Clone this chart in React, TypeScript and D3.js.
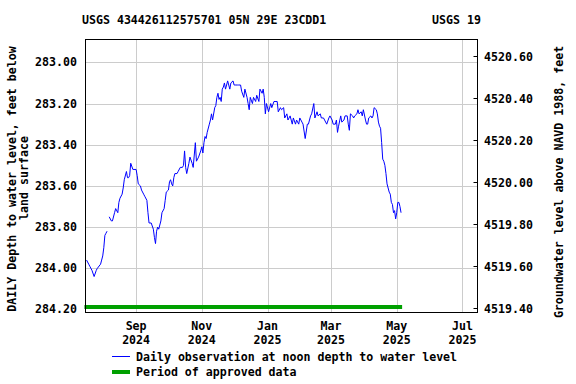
import React from "react";
import * as d3 from "d3";

// chart text
const title = "USGS 434426112575701 05N 29E 23CDD1";
const agency = "USGS 19";
const leftLabel = ["DAILY Depth to water level, feet below", "land surface"];
const rightLabel = "Groundwater level above NAVD 1988, feet";
const legendLine = "Daily observation at noon depth to water level";
const legendApproved = "Period of approved data";

// axes
const xDomain = ["2024-07-16", "2025-07-15"];
const xTicks = ["2024-09-01", "2024-11-01", "2025-01-01", "2025-03-01", "2025-05-01", "2025-07-01"];
const depthDomain = [282.889, 284.2146];
const depthTicks = [283.0, 283.2, 283.4, 283.6, 283.8, 284.0, 284.2];
const elevDomain = [4520.677, 4519.377];
const elevTicks = [4520.6, 4520.4, 4520.2, 4520.0, 4519.8, 4519.6, 4519.4];

// approved period
const approved = ["2024-07-15", "2025-05-06"];

// daily observations (null = gap)
const obsDates = [
  "2024-07-17", "2024-07-19", "2024-07-20", "2024-07-22", "2024-07-24", "2024-07-26", "2024-07-27", "2024-07-30", "2024-07-31",
  "2024-08-01", "2024-08-02", "2024-08-03", "2024-08-04", "2024-08-05", "2024-08-06", "2024-08-07", "2024-08-09", "2024-08-10",
  "2024-08-12", "2024-08-13", "2024-08-15", "2024-08-16", "2024-08-17", "2024-08-19", "2024-08-20", "2024-08-21", "2024-08-23",
  "2024-08-24", "2024-08-25", "2024-08-26", "2024-08-27", "2024-08-29", "2024-08-30",
  "2024-09-01", "2024-09-02", "2024-09-03", "2024-09-05", "2024-09-06", "2024-09-08", "2024-09-09", "2024-09-11", "2024-09-12",
  "2024-09-13", "2024-09-15", "2024-09-17", "2024-09-18", "2024-09-19", "2024-09-20", "2024-09-21", "2024-09-22", "2024-09-24",
  "2024-09-25", "2024-09-27", "2024-09-28", "2024-09-29",
  "2024-10-01", "2024-10-02", "2024-10-03", "2024-10-04", "2024-10-05", "2024-10-06", "2024-10-07", "2024-10-09", "2024-10-10",
  "2024-10-12", "2024-10-14", "2024-10-15", "2024-10-16", "2024-10-17", "2024-10-18", "2024-10-20", "2024-10-21", "2024-10-23",
  "2024-10-24", "2024-10-26", "2024-10-27", "2024-10-29", "2024-10-31",
  "2024-11-01", "2024-11-02", "2024-11-03", "2024-11-04", "2024-11-05", "2024-11-06", "2024-11-08", "2024-11-09", "2024-11-10",
  "2024-11-11", "2024-11-13", "2024-11-14", "2024-11-15", "2024-11-16", "2024-11-17", "2024-11-18", "2024-11-19", "2024-11-20",
  "2024-11-21", "2024-11-22", "2024-11-23", "2024-11-25", "2024-11-26", "2024-11-27", "2024-11-28", "2024-11-30",
  "2024-12-01", "2024-12-02", "2024-12-04", "2024-12-05", "2024-12-07", "2024-12-08", "2024-12-10", "2024-12-11", "2024-12-13",
  "2024-12-14", "2024-12-15", "2024-12-16", "2024-12-18", "2024-12-19", "2024-12-21", "2024-12-22", "2024-12-24", "2024-12-25",
  "2024-12-27", "2024-12-28", "2024-12-29", "2024-12-30", "2024-12-31",
  "2025-01-02", "2025-01-04", "2025-01-05", "2025-01-07", "2025-01-08", "2025-01-10", "2025-01-11", "2025-01-13", "2025-01-14",
  "2025-01-16", "2025-01-17", "2025-01-19", "2025-01-20", "2025-01-22", "2025-01-24", "2025-01-25", "2025-01-27", "2025-01-28",
  "2025-01-30", "2025-01-31",
  "2025-02-02", "2025-02-03", "2025-02-05", "2025-02-07", "2025-02-08", "2025-02-10", "2025-02-11", "2025-02-13", "2025-02-14",
  "2025-02-16", "2025-02-17", "2025-02-19", "2025-02-20", "2025-02-22", "2025-02-24", "2025-02-25", "2025-02-27", "2025-02-28",
  "2025-03-02", "2025-03-03", "2025-03-05", "2025-03-06", "2025-03-07", "2025-03-08", "2025-03-10", "2025-03-11", "2025-03-13",
  "2025-03-14", "2025-03-16", "2025-03-17", "2025-03-18", "2025-03-19", "2025-03-21", "2025-03-22", "2025-03-23", "2025-03-25",
  "2025-03-26", "2025-03-27", "2025-03-29", "2025-03-30", "2025-03-31",
  "2025-04-02", "2025-04-03", "2025-04-04", "2025-04-05", "2025-04-07", "2025-04-08", "2025-04-09", "2025-04-10", "2025-04-12",
  "2025-04-13", "2025-04-14", "2025-04-15", "2025-04-16", "2025-04-17", "2025-04-18", "2025-04-19", "2025-04-20", "2025-04-21",
  "2025-04-22", "2025-04-24", "2025-04-25", "2025-04-26", "2025-04-27", "2025-04-28", "2025-04-29", "2025-04-30",
  "2025-05-01", "2025-05-02", "2025-05-03", "2025-05-04", "2025-05-05",
];

const obsDepth: (number | null)[] = [
  283.96, 283.98, 283.99, 284.01, 284.04, 284.01, 284.0, 283.98, 283.96,
  283.94, 283.9, 283.84, 283.83, 283.82, null, 283.75, 283.77, 283.77,
  283.73, 283.71, 283.73, 283.68, 283.66, 283.64, 283.61, 283.57, 283.53,
  283.56, 283.56, 283.55, 283.49, 283.52, 283.52,
  283.52, 283.55, 283.59, 283.6, 283.62, 283.64, 283.65, 283.67, 283.73,
  283.78, 283.78, 283.81, 283.85, 283.88, 283.82, 283.8, 283.81, 283.77,
  283.73, 283.71, 283.67, 283.63,
  283.62, 283.58, 283.57, 283.59, 283.6, 283.56, 283.54, 283.54, 283.53,
  283.51, 283.51, 283.5, 283.43, 283.51, 283.54, 283.49, 283.46, 283.49,
  283.51, 283.39, 283.48, 283.46, 283.43,
  283.41, 283.44, 283.39, 283.36, 283.37, 283.34, 283.3, 283.28, 283.25,
  283.28, 283.22, 283.21, 283.17, 283.15, 283.18, 283.17, 283.19, 283.13,
  283.12, 283.1, 283.13, 283.09, 283.11, 283.13, 283.1, 283.09,
  283.11, 283.11, 283.11, 283.11, 283.11, 283.14, 283.17, 283.13, 283.17,
  283.2, 283.23, 283.17, 283.2, 283.17, 283.19, 283.16, 283.19, 283.13,
  283.15, 283.13, 283.17, 283.25, 283.2,
  283.24, 283.2, 283.22, 283.19, 283.19, 283.19, 283.24, 283.22, 283.23,
  283.22, 283.27, 283.25, 283.28, 283.26, 283.3, 283.27, 283.3, 283.28,
  283.3, 283.27,
  283.29, 283.3, 283.37, 283.3, 283.3, 283.26, 283.25, 283.2, 283.27,
  283.24, 283.26, 283.25, 283.27, 283.27, 283.29, 283.3, 283.27, 283.26,
  283.28, 283.3, 283.3, 283.28, 283.34, 283.31, 283.26, 283.29, 283.28,
  283.26, 283.26, 283.3, 283.33, 283.25, 283.26, 283.27, 283.26, 283.25,
  283.23, 283.25, 283.24, 283.26, 283.23,
  283.28, 283.3, 283.3, 283.27, 283.26, 283.27, 283.26, 283.22, 283.23,
  283.25, 283.29, 283.31, 283.32, 283.39, 283.47, 283.48, 283.5, 283.54,
  283.59, 283.63, 283.64, 283.68, 283.69, 283.73, 283.72, 283.76,
  283.73, 283.68, 283.68, 283.7, 283.73,
];

const width = 576;
const height = 384;
const left = 85.5;
const right = 477.5;
const top = 39.5;
const bottom = 312.5;

const font = "'DejaVu Sans Mono', monospace";
const fs = 11.6;

const parse = d3.timeParse("%Y-%m-%d");
const fmtMonth = d3.timeFormat("%b");
const fmtYear = d3.timeFormat("%Y");

const x = d3.scaleTime().domain(xDomain.map((d) => parse(d)!)).range([left, right]);
const yDepth = d3.scaleLinear().domain(depthDomain).range([top, bottom]);
const yElev = d3.scaleLinear().domain(elevDomain).range([top, bottom]);

const data = obsDates.map((d, i) => ({ date: parse(d)!, v: obsDepth[i] }));

const line = d3
  .line<{ date: Date; v: number | null }>()
  .defined((d) => d.v != null)
  .x((d) => x(d.date))
  .y((d) => yDepth(d.v as number));

export default function App() {
  const textStyle = { fontFamily: font, fontSize: fs, fontWeight: "bold" as const, fill: "#000" };
  return (
    <svg width={width} height={height} style={{ position: "absolute", left: 0, top: 0, background: "#fff" }}>
      <rect x={0} y={0} width={width} height={height} fill="#fff" />
      <text x={82} y={24} {...textStyle}>{title}</text>
      <text x={432} y={24} {...textStyle}>{agency}</text>

      {/* grid */}
      {depthTicks.slice(0, -1).map((t) => (
        <line key={"h" + t} x1={left} x2={right} y1={Math.round(yDepth(t)) + 0.5} y2={Math.round(yDepth(t)) + 0.5} stroke="#cccccc" />
      ))}
      {xTicks.map((t) => {
        const xx = Math.round(x(parse(t)!)) + 0.5;
        return <line key={"v" + t} x1={xx} x2={xx} y1={top} y2={bottom} stroke="#cccccc" />;
      })}

      {/* approved period */}
      <line
        x1={x(parse(approved[0])!)}
        x2={x(parse(approved[1])!)}
        y1={bottom - 5.5}
        y2={bottom - 5.5}
        stroke="#00a000"
        strokeWidth={4}
      />

      <path d={line(data) ?? ""} fill="none" stroke="#0000ff" strokeWidth={1} />

      {/* frame */}
      <rect x={left} y={top} width={right - left} height={bottom - top} fill="none" stroke="#000" />

      {/* left axis */}
      {depthTicks.map((t) => (
        <text key={"l" + t} x={77} y={yDepth(t) + 4} textAnchor="end" {...textStyle}>
          {t.toFixed(2)}
        </text>
      ))}

      {/* right axis */}
      {elevTicks.map((t) => {
        const yy = Math.round(yElev(t)) + 0.5;
        return (
          <g key={"r" + t}>
            <line x1={right - 4} x2={right} y1={yy} y2={yy} stroke="#000" />
            <text x={484} y={yy + 4} {...textStyle}>{t.toFixed(2)}</text>
          </g>
        );
      })}

      {/* x axis */}
      {xTicks.map((t) => {
        const dt = parse(t)!;
        return (
          <g key={"x" + t}>
            <text x={x(dt)} y={330} textAnchor="middle" {...textStyle}>{fmtMonth(dt)}</text>
            <text x={x(dt)} y={344} textAnchor="middle" {...textStyle}>{fmtYear(dt)}</text>
          </g>
        );
      })}

      {/* axis titles */}
      <text transform="translate(16,179) rotate(-90)" textAnchor="middle" {...textStyle}>{leftLabel[0]}</text>
      <text transform="translate(28,178) rotate(-90)" textAnchor="middle" {...textStyle}>{leftLabel[1]}</text>
      <text transform="translate(563,182) rotate(-90)" textAnchor="middle" {...textStyle}>{rightLabel}</text>

      {/* legend */}
      <line x1={112} x2={130} y1={356.5} y2={356.5} stroke="#0000ff" />
      <text x={136} y={361} {...textStyle}>{legendLine}</text>
      <line x1={112} x2={130} y1={372} y2={372} stroke="#00a000" strokeWidth={4} />
      <text x={136} y={376} {...textStyle}>{legendApproved}</text>
    </svg>
  );
}
